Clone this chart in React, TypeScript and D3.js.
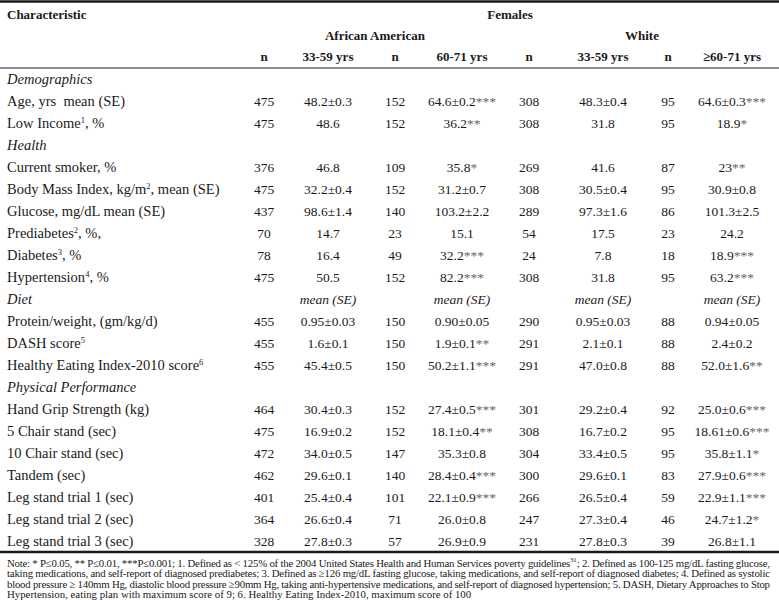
import React from 'react';
import * as d3 from 'd3';

const titleHeader = 'Characteristic';
const groupHeader = 'Females';
const raceHeaders = ['African American', 'White'];
const columnHeaders = ['n', '33-59 yrs', 'n', '60-71 yrs', 'n', '33-59 yrs', 'n', '≥60-71 yrs'];

const rowLabels = [
  'Demographics',
  'Age, yrs\u00a0\u00a0mean (SE)',
  'Low Income^{1}, %',
  'Health',
  'Current smoker, %',
  'Body Mass Index, kg/m^{2}, mean (SE)',
  'Glucose, mg/dL mean (SE)',
  'Prediabetes^{2}, %,',
  'Diabetes^{3}, %',
  'Hypertension^{4}, %',
  'Diet',
  'Protein/weight, (gm/kg/d)',
  'DASH score^{5}',
  'Healthy Eating Index-2010 score^{6}',
  'Physical Performance',
  'Hand Grip Strength (kg)',
  '5 Chair stand (sec)',
  '10 Chair stand (sec)',
  'Tandem (sec)',
  'Leg stand trial 1 (sec)',
  'Leg stand trial 2 (sec)',
  'Leg stand trial 3 (sec)',
];
const sectionRows = [0, 3, 10, 14];

const nAAYoung = [null, 475, 475, null, 376, 475, 437, 70, 78, 475, null, 455, 455, 455, null, 464, 475, 472, 462, 401, 364, 328];
const valAAYoung = ['', '48.2±0.3', '48.6', '', '46.8', '32.2±0.4', '98.6±1.4', '14.7', '16.4', '50.5', 'mean (SE)', '0.95±0.03', '1.6±0.1', '45.4±0.5', '', '30.4±0.3', '16.9±0.2', '34.0±0.5', '29.6±0.1', '25.4±0.4', '26.6±0.4', '27.8±0.3'];
const nAAOld = [null, 152, 152, null, 109, 152, 140, 23, 49, 152, null, 150, 150, 150, null, 152, 152, 147, 140, 101, 71, 57];
const valAAOld = ['', '64.6±0.2***', '36.2**', '', '35.8*', '31.2±0.7', '103.2±2.2', '15.1', '32.2***', '82.2***', 'mean (SE)', '0.90±0.05', '1.9±0.1**', '50.2±1.1***', '', '27.4±0.5***', '18.1±0.4**', '35.3±0.8', '28.4±0.4***', '22.1±0.9***', '26.0±0.8', '26.9±0.9'];
const nWYoung = [null, 308, 308, null, 269, 308, 289, 54, 24, 308, null, 290, 291, 291, null, 301, 308, 304, 300, 266, 247, 231];
const valWYoung = ['', '48.3±0.4', '31.8', '', '41.6', '30.5±0.4', '97.3±1.6', '17.5', '7.8', '31.8', 'mean (SE)', '0.95±0.03', '2.1±0.1', '47.0±0.8', '', '29.2±0.4', '16.7±0.2', '33.4±0.5', '29.6±0.1', '26.5±0.4', '27.3±0.4', '27.8±0.3'];
const nWOld = [null, 95, 95, null, 87, 95, 86, 23, 18, 95, null, 88, 88, 88, null, 92, 95, 95, 83, 59, 46, 39];
const valWOld = ['', '64.6±0.3***', '18.9*', '', '23**', '30.9±0.8', '101.3±2.5', '24.2', '18.9***', '63.2***', 'mean (SE)', '0.94±0.05', '2.4±0.2', '52.0±1.6**', '', '25.0±0.6***', '18.61±0.6***', '35.8±1.1*', '27.9±0.6***', '22.9±1.1***', '24.7±1.2*', '26.8±1.1'];

const noteLines = [
  'Note: * P≤0.05, ** P≤0.01, ***P≤0.001; 1. Defined as < 125% of the 2004 United States Health and Human Services poverty guidelines^{31}; 2. Defined as 100-125 mg/dL fasting glucose,',
  'taking medications, and self-report of diagnosed prediabetes; 3. Defined as ≥126 mg/dL fasting glucose, taking medications, and self-report of diagnosed diabetes; 4. Defined as systolic',
  'blood pressure ≥ 140mm Hg, diastolic blood pressure ≥90mm Hg, taking anti-hypertensive medications, and self-report of diagnosed hypertension; 5. DASH, Dietary Approaches to Stop',
  'Hypertension, eating plan with maximum score of 9; 6. Healthy Eating Index-2010, maximum score of 100',
];

const W = 779;
const H = 600;
const FONT = '"Liberation Serif", "Times New Roman", serif';
const INK = '#1a1a1a';

const columnKeys = d3.range(8);
const xCol = d3.scaleOrdinal<number, number>().domain(columnKeys).range([264, 328, 395, 462, 529, 603, 668, 732]);
const xRace = d3.scaleOrdinal<number, number>().domain([0, 1]).range([375, 642]);
const yRow = d3.scaleBand<number>().domain(d3.range(rowLabels.length)).range([68, 552]).paddingInner(0);
const yNote = d3.scaleLinear().domain([0, 3]).range([566.5, 598]);

const columns = [nAAYoung, valAAYoung, nAAOld, valAAOld, nWYoung, valWYoung, nWOld, valWOld];

function withSup(s: string, supSize: number, key: string) {
  const parts = s.split(/\^\{([^}]*)\}/);
  return parts.map((p, i) =>
    i % 2 === 1 ? (
      <tspan key={key + i} fontSize={supSize} dy={-5}>{p}</tspan>
    ) : (
      <tspan key={key + i} dy={i > 0 ? 5 : 0}>{p}</tspan>
    )
  );
}

function valueText(v: string) {
  const m = v.match(/^([^*]*)(\**)$/);
  const base = m ? m[1] : v;
  const stars = m ? m[2] : '';
  return (
    <>
      <tspan>{base}</tspan>
      {stars && <tspan fill="#666">{stars}</tspan>}
    </>
  );
}

export default function App() {
  const bw = yRow.bandwidth();
  const base = (i: number) => (yRow(i) as number) + bw / 2 + 4.5;
  return (
    <svg width={W} height={H} style={{ position: 'absolute', left: 0, top: 0, background: '#fff' }} fontFamily={FONT}>
      <rect x={0} y={0} width={W} height={H} fill="#fff" />
      <line x1={0} x2={W} y1={1.5} y2={1.5} stroke={INK} strokeWidth={2.5} />
      <text x={7} y={19} fontSize={13} fontWeight="bold" fill={INK}>{titleHeader}</text>
      <text x={510} y={19} fontSize={13} fontWeight="bold" fill={INK} textAnchor="middle">{groupHeader}</text>
      {raceHeaders.map((r, i) => (
        <text key={r} x={xRace(i)} y={40} fontSize={13} fontWeight="bold" fill={INK} textAnchor="middle">{r}</text>
      ))}
      {columnHeaders.map((h, i) => (
        <text key={'h' + i} x={xCol(i)} y={61} fontSize={13} fontWeight="bold" fill={INK} textAnchor="middle">{h}</text>
      ))}
      <line x1={0} x2={W} y1={68} y2={68} stroke={INK} strokeWidth={1.2} />
      {rowLabels.map((lab, i) => {
        const section = sectionRows.includes(i);
        return (
          <text key={'r' + i} x={7} y={base(i)} fontSize={14.5} fill={INK} fontStyle={section ? 'italic' : 'normal'}>
            {withSup(lab, 8.5, 'l' + i)}
          </text>
        );
      })}
      {columns.map((col, c) =>
        col.map((v, i) => {
          if (v === null || v === '') return null;
          const s = String(v);
          const italic = s === 'mean (SE)';
          return (
            <text key={'c' + c + '-' + i} x={xCol(c)} y={base(i)} fontSize={13.5} fill={INK} textAnchor="middle" fontStyle={italic ? 'italic' : 'normal'}>
              {typeof v === 'number' ? s : valueText(s)}
            </text>
          );
        })
      )}
      <line x1={0} x2={W} y1={552} y2={552} stroke={INK} strokeWidth={2.5} />
      {noteLines.map((ln, i) => (
        <text
          key={'n' + i}
          x={7}
          y={yNote(i)}
          fontSize={10.8}
          fill={INK}
          {...(i < noteLines.length - 1 ? { textLength: 763, lengthAdjust: 'spacing' } : {})}
        >
          {withSup(ln, 7, 'n' + i)}
        </text>
      ))}
    </svg>
  );
}
